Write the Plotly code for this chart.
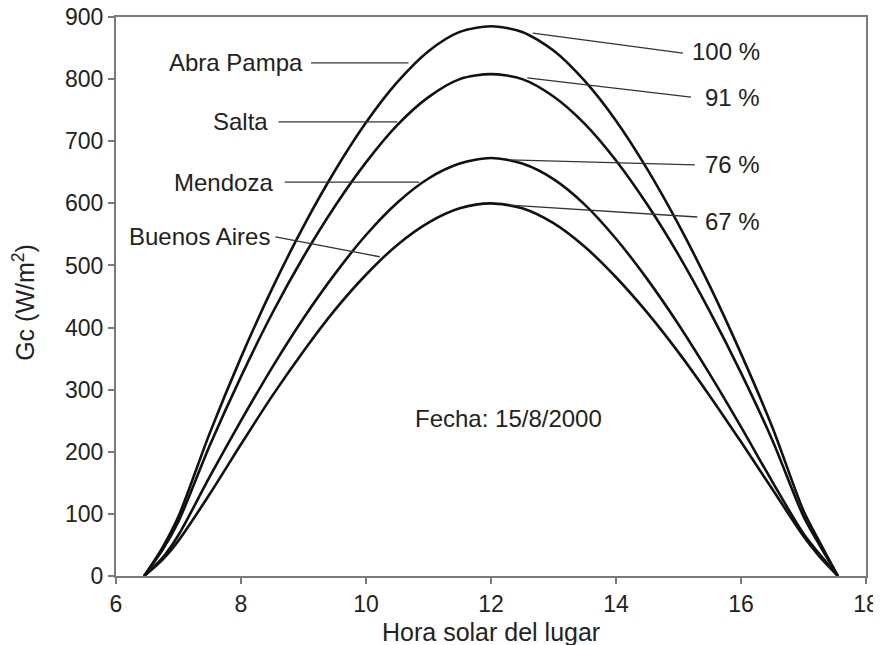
import plotly.graph_objects as go

# --- datos (Gc en W/m2 vs hora solar) ---
hora = [6.45, 6.75, 7.0, 7.5, 8.0, 8.5, 9.0, 9.5, 10.0, 10.5, 11.0, 11.5, 12.0,
        12.5, 13.0, 13.5, 14.0, 14.5, 15.0, 15.5, 16.0, 16.5, 17.0, 17.25, 17.55]

abra_pampa = [0, 47, 96, 230, 352, 463, 563, 652, 730, 795, 845, 876, 885,
              876, 846, 797, 733, 655, 566, 467, 358, 240, 105, 56, 0]
salta = [0, 43, 88, 210, 321, 423, 514, 595, 666, 726, 771, 800, 808,
         800, 772, 728, 669, 598, 517, 426, 327, 219, 96, 51, 0]
mendoza = [0, 30, 66, 160, 250, 336, 415, 486, 549, 601, 640, 664, 673,
           664, 639, 598, 543, 478, 405, 325, 240, 152, 68, 36, 0]
buenos_aires = [0, 27, 57, 132, 212, 290, 362, 428, 485, 533, 569, 592, 600,
                592, 568, 530, 481, 424, 360, 290, 216, 140, 64, 32, 0]

series = [abra_pampa, salta, mendoza, buenos_aires]
nombres = ['Abra Pampa', 'Salta', 'Mendoza', 'Buenos Aires']
porcentajes = ['100 %', '91 %', '76 %', '67 %']

x_ticks = [6, 8, 10, 12, 14, 16, 18]
y_ticks = [0, 100, 200, 300, 400, 500, 600, 700, 800, 900]

FUENTE = 'Liberation Sans, Arial, sans-serif'
GRIS = '#7a7a7a'
TEXTO = '#222222'

fig = go.Figure()
for nombre, valores in zip(nombres, series):
    fig.add_trace(go.Scatter(x=hora, y=valores, mode='lines', name=nombre,
                             line=dict(color='#111111', width=2.6, shape='spline', smoothing=0.8)))

# --- etiquetas de la izquierda con linea guia ---
# (texto_x, texto_y, linea x0, y0, x1, y1)
guias_izq = [
    (9.02, 826, 9.12, 826, 10.68, 826),
    (8.46, 731, 8.6, 731, 10.5, 731),
    (8.54, 634, 8.7, 634, 10.85, 634),
    (8.5, 546, 8.55, 546, 10.22, 514),
]
for nombre, (tx, ty, x0, y0, x1, y1) in zip(nombres, guias_izq):
    fig.add_annotation(x=tx, y=ty, text=nombre, showarrow=False, xanchor='right',
                       yanchor='middle', font=dict(size=24, color=TEXTO, family=FUENTE))
    fig.add_shape(type='line', x0=x0, y0=y0, x1=x1, y1=y1,
                  line=dict(color='#333333', width=1.3))

# --- porcentajes a la derecha ---
guias_der = [
    (12.67, 874, 15.07, 842, 844),
    (12.58, 802, 15.2, 771, 771),
    (12.3, 670, 15.26, 662, 662),
    (12.3, 597, 15.3, 578, 571),
]
for texto, (x0, y0, x1, y1, ty) in zip(porcentajes, guias_der):
    fig.add_shape(type='line', x0=x0, y0=y0, x1=x1, y1=y1,
                  line=dict(color='#333333', width=1.3))
    fig.add_annotation(x=16.34, y=ty, text=texto, showarrow=False, xanchor='right',
                       yanchor='middle', font=dict(size=24, color=TEXTO, family=FUENTE))

fig.add_annotation(x=12.28, y=253, text='Fecha: 15/8/2000', showarrow=False,
                   font=dict(size=24, color=TEXTO, family=FUENTE))

# titulos de ejes
fig.add_annotation(xref='paper', yref='paper', x=0.5, y=-0.1, text='Hora solar del lugar',
                   showarrow=False, yanchor='middle',
                   font=dict(size=25, color=TEXTO, family=FUENTE))
fig.add_annotation(xref='paper', yref='paper', x=-0.123, y=0.49, text='Gc (W/m<sup>2</sup>)',
                   showarrow=False, textangle=-90, xanchor='center', yanchor='middle',
                   font=dict(size=25, color=TEXTO, family=FUENTE))

fig.update_xaxes(range=[6, 18], tickvals=x_ticks, ticks='outside', ticklen=6, tickwidth=2,
                 tickcolor=GRIS, showline=True, linecolor=GRIS, linewidth=2, mirror=True,
                 showgrid=False, zeroline=False, automargin=False, ticklabeloverflow='allow',
                 tickfont=dict(size=23, color=TEXTO, family=FUENTE))
fig.update_yaxes(range=[0, 900], tickvals=y_ticks, ticks='outside', ticklen=6, tickwidth=2,
                 tickcolor=GRIS, showline=True, linecolor=GRIS, linewidth=2, mirror=True,
                 showgrid=False, zeroline=False, automargin=False, ticklabeloverflow='allow',
                 tickfont=dict(size=23, color=TEXTO, family=FUENTE))

# la pagina desplaza el lienzo 8 px; los margenes lo compensan
fig.update_layout(width=881, height=645, showlegend=False,
                  plot_bgcolor='white', paper_bgcolor='white',
                  margin=dict(l=108, r=23, t=9, b=77))

fig.write_html('out.html')
